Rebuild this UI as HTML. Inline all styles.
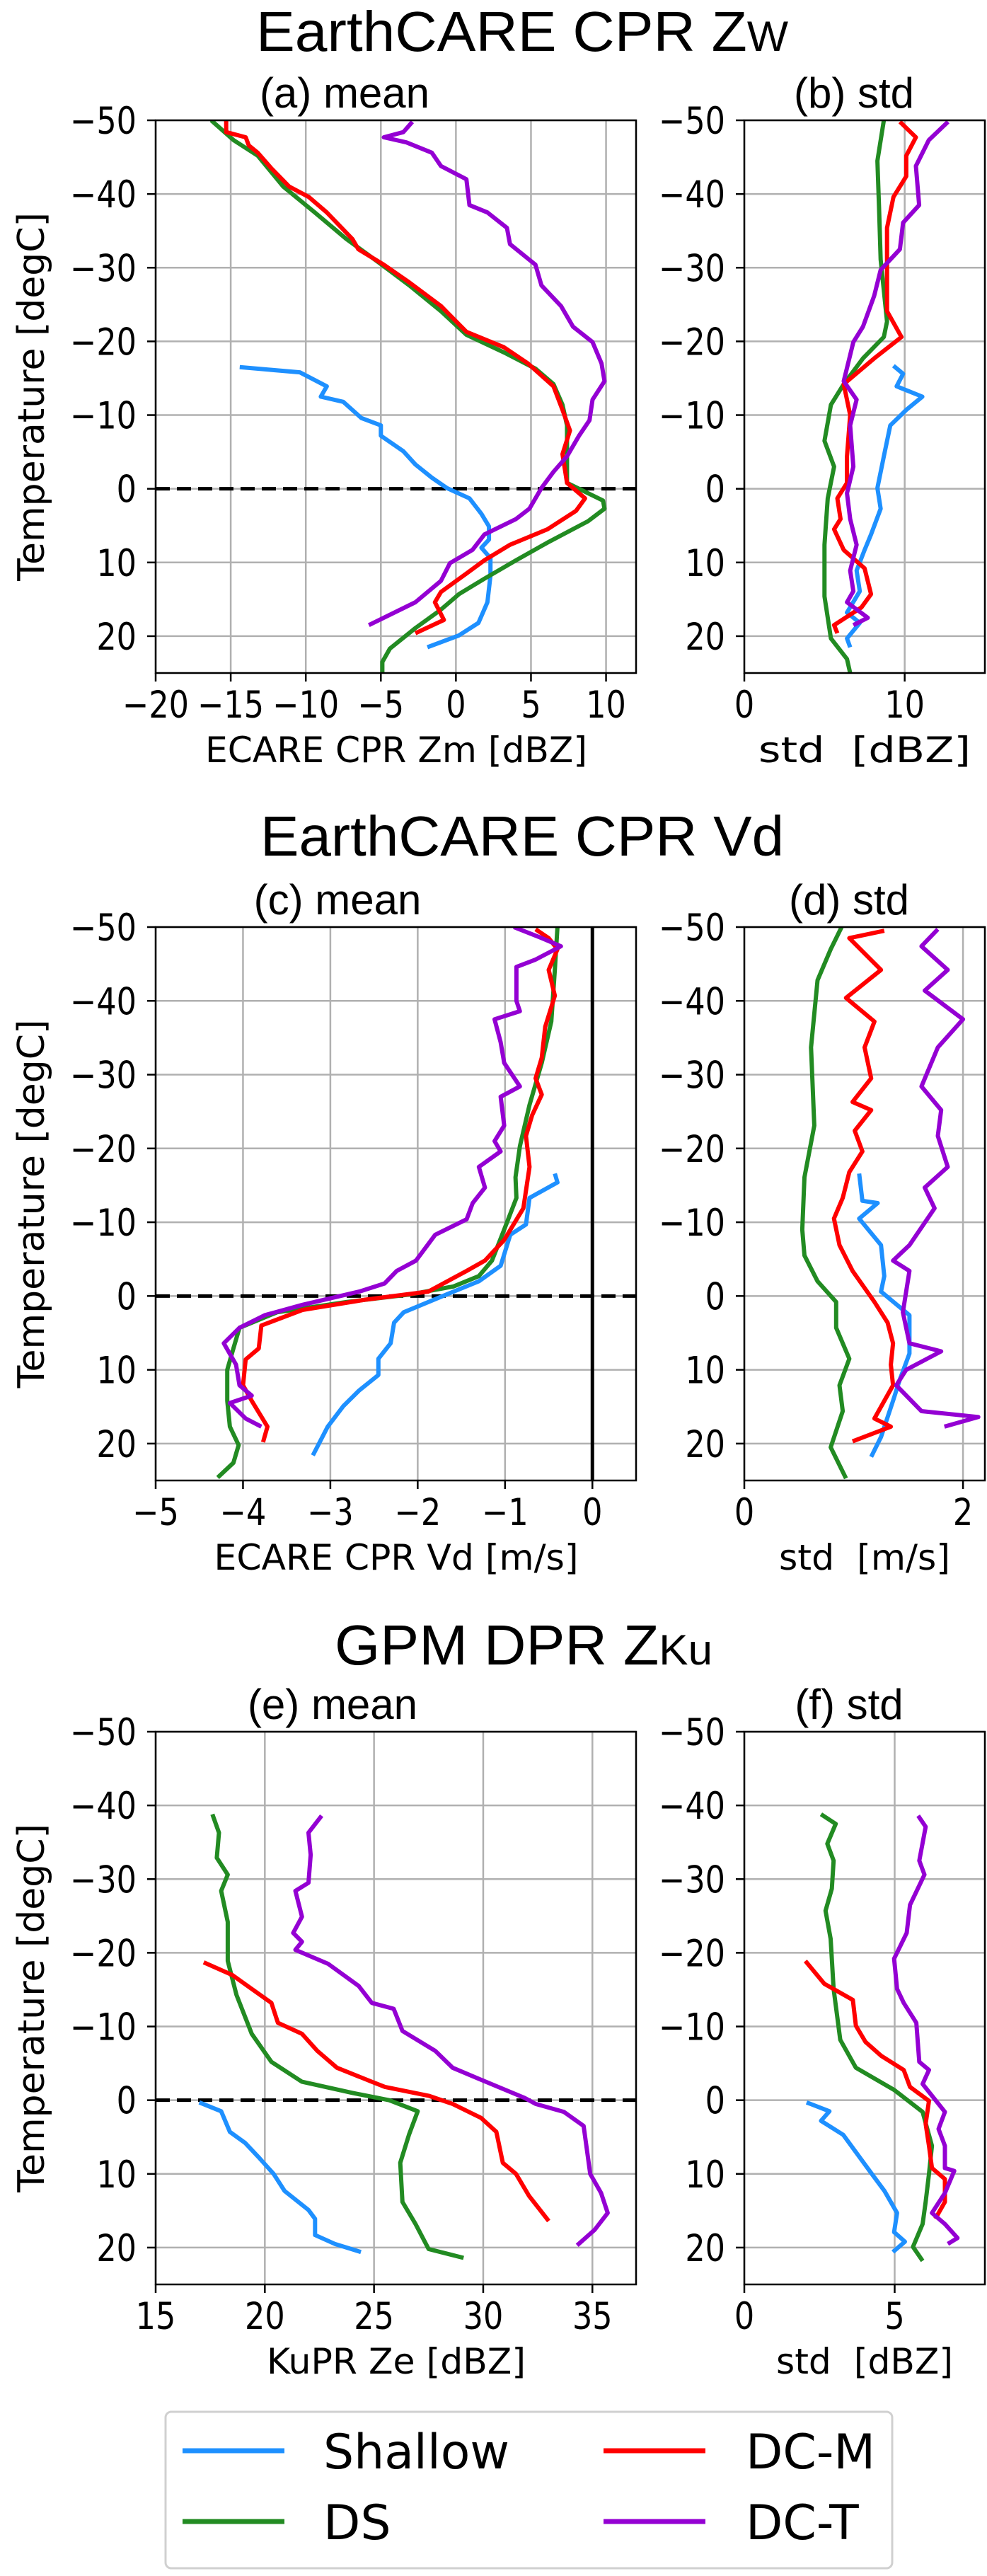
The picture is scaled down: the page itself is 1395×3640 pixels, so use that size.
<!DOCTYPE html>
<html><head><meta charset="utf-8"><style>
html,body{margin:0;padding:0;background:#fff;}
svg{display:block;}
</style></head><body>
<svg id="fig" xmlns="http://www.w3.org/2000/svg" width="1395" height="3640" viewBox="0 0 1395 3640">
<rect width="1395" height="3640" fill="#fff"/>
<text x="738" y="72" text-anchor="middle" font-family="Liberation Sans, sans-serif" font-size="80" textLength="752" lengthAdjust="spacingAndGlyphs">EarthCARE CPR Z<tspan font-size="60">W</tspan></text>
<text x="738" y="1209" text-anchor="middle" font-family="Liberation Sans, sans-serif" font-size="80" textLength="740" lengthAdjust="spacingAndGlyphs">EarthCARE CPR Vd</text>
<text x="740" y="2352" text-anchor="middle" font-family="Liberation Sans, sans-serif" font-size="80" textLength="534" lengthAdjust="spacingAndGlyphs">GPM DPR Z<tspan font-size="60">Ku</tspan></text>
<g id="plots"></g>
<g>
<rect x="234" y="3408" width="1027" height="221" rx="8" fill="#fff" stroke="#d0d0d0" stroke-width="3"/>
<line x1="258" y1="3463" x2="402" y2="3463" stroke="#1e90ff" stroke-width="7"/>
<text x="457" y="3488" font-family="DejaVu Sans, sans-serif" font-size="68">Shallow</text>
<line x1="258" y1="3563" x2="402" y2="3563" stroke="#228b22" stroke-width="7"/>
<text x="457" y="3588" font-family="DejaVu Sans, sans-serif" font-size="68">DS</text>
<line x1="853" y1="3463" x2="997" y2="3463" stroke="#ff0000" stroke-width="7"/>
<text x="1054" y="3488" font-family="DejaVu Sans, sans-serif" font-size="68">DC-M</text>
<line x1="853" y1="3563" x2="997" y2="3563" stroke="#9400d3" stroke-width="7"/>
<text x="1054" y="3588" font-family="DejaVu Sans, sans-serif" font-size="68">DC-T</text>
</g>
</svg>
<script>
const yTicks = [-50,-40,-30,-20,-10,0,10,20];
// Panel a: mean Zm
const a_shallow_t = [-16.5,-15.8,-13.9,-12.5,-11.8,-9.6,-8.6,-7.2,-5.1,-3.3,-1.5,-0.1,1.3,3.4,5.1,6.9,8.0,9.4,11.8,15.4,18.2,19.9,21.5];
const a_shallow_x = [-14.4,-10.4,-8.6,-9.0,-7.5,-6.3,-5.0,-5.0,-3.5,-2.7,-1.6,-0.6,0.9,1.7,2.2,2.2,1.7,2.3,2.3,2.1,1.5,0.2,-1.9];
const a_ds_t = [-50,-47.3,-45.2,-41,-37.5,-33.9,-30.8,-27.6,-24.1,-20.9,-18.5,-16.3,-14.2,-11.4,-8.6,-5.1,-0.8,0.6,1.6,2.7,4.4,7.3,9.7,12.2,14.3,16.4,18.9,21.7,23.5,25];
const a_ds_x = [-16.3,-14.8,-13.2,-11.5,-9.4,-7.3,-5.2,-3.1,-1.0,0.7,3.2,5.3,6.5,7.1,7.4,7.4,7.4,8.8,9.8,9.9,8.8,6.1,4.0,1.9,0.2,-1.0,-2.7,-4.4,-4.9,-4.9];
const a_dcm_t = [-50,-48.4,-47.7,-46.6,-45.6,-43.5,-41,-39.6,-37.5,-33.9,-32.5,-30.4,-28.0,-24.8,-21.3,-19.2,-17.0,-13.9,-10.7,-7.9,-4.7,-0.8,1.3,3.0,5.5,7.6,9.7,11.5,14.0,15.4,17.8,19.6];
const a_dcm_x = [-15.3,-15.3,-14.0,-13.8,-13.2,-12.3,-11.1,-9.8,-8.6,-6.9,-6.5,-4.8,-3.1,-1.0,0.7,3.2,4.8,6.5,7.1,7.6,7.1,7.4,8.6,8.0,6.1,3.6,1.9,0.7,-1.0,-1.4,-0.8,-2.7];
const a_dct_t = [-49.8,-48.4,-47.7,-47,-45.6,-43.8,-42,-38.5,-37.5,-35.4,-33.2,-30.4,-27.6,-24.8,-22,-19.9,-17,-14.6,-12.1,-9.3,-7.2,-4.4,-2.3,-0.1,2.7,4.1,6.2,8.3,10.1,12.5,15.4,18.5];
const a_dct_x = [-2.9,-3.5,-4.8,-3.3,-1.6,-1.0,0.7,0.9,2.1,3.4,3.6,5.3,5.7,7.0,7.8,9.1,9.7,9.9,9.1,8.9,8.2,7.4,6.5,5.7,4.9,4.0,1.9,1.1,-0.4,-1.0,-2.7,-5.8];
// Panel b: std Zm
const b_shallow_t = [-16.7,-15.6,-13.9,-12.5,-10.7,-8.6,-4.4,-0.1,2.7,6.2,8.3,11.1,13.9,16.8,18.2,20.3,21.5];
const b_shallow_x = [9.3,9.9,9.5,11.1,10.1,9.1,8.7,8.3,8.5,7.9,7.5,7.0,7.2,6.4,7.2,6.4,6.6];
const b_ds_t = [-50,-44.5,-38.2,-31.1,-22.7,-20.6,-17.7,-14.2,-11.4,-6.5,-3,1.3,7.6,14.6,20.3,23.1,25];
const b_ds_x = [8.7,8.3,8.4,8.5,8.9,8.7,7.4,6.2,5.4,5.0,5.6,5.2,5.0,5.0,5.4,6.4,6.6];
const b_dcm_t = [-49.8,-47.7,-45.2,-42.4,-39.6,-35.4,-30.4,-24.1,-20.6,-17.7,-14.2,-10,-4.4,-0.8,1.3,4.1,5.5,8.3,10.8,14.3,16.1,18.5,19.6];
const b_dcm_x = [9.7,10.7,10.1,10.1,9.3,8.9,8.9,8.9,9.8,8.1,6.2,6.6,6.4,6.4,5.8,6.0,5.6,6.2,7.5,7.9,7.3,5.6,5.8];
const b_dct_t = [-49.8,-47.3,-43.8,-38.5,-36.1,-32.5,-29.7,-26.2,-22,-19.9,-14.6,-12.1,-8.6,-3,0.6,4.1,7.6,11.1,13.9,15.4,17.5,18.5];
const b_dct_x = [12.7,11.5,10.7,10.9,9.9,9.7,8.5,8.1,7.4,6.8,6.2,7.0,6.6,6.8,6.4,6.6,7.0,6.6,6.8,6.4,7.7,6.8];
// Panel c: mean Vd
const c_shallow_t = [-16.6,-15.4,-13.3,-9.7,-8.3,-4.1,-2.0,-0.6,2.2,3.6,6.4,8.5,10.7,12.8,14.9,17.7,21.6];
const c_shallow_x = [-0.43,-0.40,-0.72,-0.76,-0.94,-1.05,-1.30,-1.59,-2.16,-2.27,-2.31,-2.45,-2.45,-2.67,-2.85,-3.03,-3.20];
const c_ds_t = [-50,-44.2,-37.2,-31.6,-25.9,-20.3,-16.1,-13.3,-9.0,-4.8,-2.7,-1.3,-0.2,0.8,2.2,4.3,7.1,10.0,14.2,17.7,20.2,22.6,24.6];
const c_ds_x = [-0.40,-0.43,-0.47,-0.58,-0.72,-0.83,-0.88,-0.87,-1.01,-1.15,-1.30,-1.59,-2.09,-2.81,-3.61,-4.04,-4.11,-4.18,-4.18,-4.15,-4.05,-4.11,-4.29];
const c_dcm_t = [-49.7,-48.5,-47,-44.2,-40.7,-36.5,-32.3,-29.5,-27.3,-24.5,-21.7,-17.5,-11.9,-7.6,-4.8,-3.4,-0.6,0.5,1.9,4.0,7.1,8.6,12.1,14.2,17.7,19.8];
const c_dcm_x = [-0.65,-0.50,-0.40,-0.50,-0.43,-0.54,-0.58,-0.65,-0.58,-0.69,-0.76,-0.72,-0.79,-1.01,-1.23,-1.44,-1.88,-2.60,-3.32,-3.79,-3.82,-3.97,-4.0,-3.90,-3.72,-3.77];
const c_dct_t = [-50,-48.5,-47.4,-45.6,-44.6,-40,-38.6,-37.5,-34.4,-31.6,-28.4,-27.0,-23.1,-21,-19.6,-17.5,-14.7,-12.6,-10.4,-8.3,-4.8,-3.4,-1.7,-0.6,1.2,2.6,4.3,6.4,9.3,12.1,13.5,14.5,16.6,17.7];
const c_dct_x = [-0.90,-0.58,-0.36,-0.65,-0.87,-0.87,-0.83,-1.12,-1.05,-1.01,-0.83,-1.05,-1.01,-1.12,-1.05,-1.30,-1.23,-1.37,-1.44,-1.80,-2.02,-2.24,-2.38,-2.67,-3.32,-3.75,-4.04,-4.22,-4.08,-4.04,-3.90,-4.15,-3.97,-3.79];
// Panel d: std Vd
const d_shallow_t = [-16.6,-12.9,-12.6,-10.5,-6.9,-2.7,-0.6,2.6,7.8,11.4,14.2,19.1,21.8];
const d_shallow_x = [1.05,1.08,1.22,1.05,1.25,1.28,1.25,1.51,1.51,1.42,1.36,1.25,1.16];
const d_ds_t = [-50,-47,-42.8,-33.7,-23.1,-16.1,-9.0,-5.5,-2.0,0.8,4.3,8.5,12.1,15.6,20.5,24.7];
const d_ds_x = [0.89,0.79,0.67,0.61,0.64,0.55,0.53,0.55,0.67,0.84,0.84,0.96,0.87,0.90,0.79,0.93];
const d_dcm_t = [-49.5,-48.5,-44.2,-40.4,-37.2,-33.7,-29.5,-26.3,-25.2,-22.4,-19.6,-16.8,-13.3,-10.5,-6.9,-3.4,0.8,3.6,6.4,9.3,12.1,16.6,17.7,19.7];
const d_dcm_x = [1.28,0.96,1.25,0.93,1.19,1.10,1.16,0.99,1.16,1.01,1.08,0.96,0.90,0.82,0.87,0.99,1.19,1.31,1.36,1.34,1.36,1.19,1.34,0.99];
const d_dct_t = [-49.7,-47.4,-44.2,-41.4,-37.5,-33.7,-28.4,-25.2,-21.7,-17.5,-14.7,-11.9,-6.9,-4.8,-3.4,2.2,6.4,7.5,10.0,12.1,15.6,16.4,17.7];
const d_dct_x = [1.77,1.62,1.86,1.65,2.0,1.77,1.62,1.80,1.77,1.86,1.65,1.74,1.51,1.36,1.51,1.45,1.51,1.80,1.48,1.39,1.62,2.14,1.83];
// Panel e: mean KuPR Ze
const e_shallow_t = [0.3,1.5,4.3,5.8,7.7,10.0,12.3,14.9,16.1,18.3,19.5,20.6];
const e_shallow_x = [17.0,18.0,18.4,19.1,19.7,20.4,20.9,22.0,22.3,22.3,23.2,24.4];
const e_ds_t = [-38.8,-36.3,-32.9,-30.6,-28.4,-24.2,-18.9,-14.3,-9.0,-5.2,-2.5,-1.0,0.0,1.5,4.7,8.5,13.8,16.8,20.2,21.4];
const e_ds_x = [17.6,17.9,17.8,18.3,18.0,18.3,18.3,18.7,19.4,20.3,21.7,24.0,25.7,27.0,26.6,26.2,26.3,26.9,27.5,29.1];
const e_dcm_t = [-18.7,-17.0,-15.1,-13.2,-10.5,-9.0,-6.7,-4.4,-2.5,-1.8,-0.6,0.5,2.4,4.3,8.5,10.0,13.0,16.4];
const e_dcm_x = [17.2,18.5,19.4,20.3,20.6,21.7,22.4,23.3,24.9,25.5,27.5,28.6,29.9,30.6,30.9,31.5,32.1,33.0];
const e_dct_t = [-38.6,-36.3,-33.3,-29.5,-28.4,-24.9,-22.7,-21.5,-20.4,-18.5,-15.5,-13.2,-12.4,-9.4,-6.7,-4.4,-2.9,-0.3,0.5,1.6,3.5,10.0,12.6,15.3,17.6,19.7];
const e_dct_x = [22.6,22.0,22.1,22.0,21.4,21.7,21.3,21.7,21.4,22.9,24.3,24.9,25.9,26.3,27.8,28.6,29.8,31.9,32.4,33.7,34.6,34.9,35.4,35.7,35.1,34.3];
// Panel f: std KuPR Ze
const f_shallow_t = [0.3,1.5,2.8,4.7,10.0,12.3,15.3,17.9,19.2,20.6];
const f_shallow_x = [2.07,2.83,2.55,3.29,4.24,4.66,5.08,4.98,5.34,4.94];
const f_ds_t = [-38.8,-37.5,-34.8,-32.5,-28.7,-25.7,-21.9,-15.1,-8.2,-4.4,-1.4,1.6,6.2,10.0,13.8,16.8,19.9,21.8];
const f_ds_x = [2.55,3.04,2.76,2.97,2.91,2.70,2.87,2.97,3.19,3.71,4.98,5.93,6.24,6.14,6.03,5.93,5.61,5.93];
const f_dcm_t = [-18.9,-15.8,-13.6,-10.1,-7.9,-6.0,-4.1,-1.8,0.1,3.2,6.2,9.2,10.7,13.8,16.1];
const f_dcm_x = [2.03,2.66,3.61,3.71,4.03,4.56,5.30,5.51,6.14,6.03,6.14,6.24,6.67,6.67,6.35];
const f_dct_t = [-38.6,-37.1,-32.5,-30.6,-26.5,-22.7,-19.2,-15.1,-13.2,-10.5,-5.2,-4.1,-2.2,1.6,3.9,6.2,9.2,9.6,12.6,15.3,16.8,18.7,19.5];
const f_dct_x = [5.78,6.03,5.82,5.99,5.51,5.40,4.98,5.08,5.30,5.72,5.82,6.14,5.93,6.67,6.46,6.67,6.67,6.98,6.67,6.24,6.67,7.09,6.77];

const a_xticks = [-20,-15,-10,-5,0,5,10];
const b_xticks = [0,10];
const c_xticks = [-5,-4,-3,-2,-1,0];
const d_xticks = [0,2];
const e_xticks = [15,20,25,30,35];
const f_xticks = [0,5];

const NS = "http://www.w3.org/2000/svg";
const plots = document.getElementById('plots');
function mk(tag, attrs, parent){
  const el = document.createElementNS(NS, tag);
  for (const k in attrs) el.setAttribute(k, attrs[k]);
  parent.appendChild(el);
  return el;
}
const COLORS = {shallow:'#1e90ff', ds:'#228b22', dcm:'#ff0000', dct:'#9400d3'};
function fmt(v){ return (v<0?'\u2212':'') + Math.abs(v); }
const TF = 'font-family:"DejaVu Sans",sans-serif;font-size:53px;';

function drawPanel(p){
  const g = mk('g', {}, plots);
  
  
  const sx = v => p.x0 + (v - p.xmin) / (p.xmax - p.xmin) * (p.x1 - p.x0);
  const sy = v => p.y0 + (v - (-50)) / 75 * (p.y1 - p.y0);
  const clip = 'clip-' + p.id;
  const cp = mk('clipPath', {id: clip}, g);
  mk('rect', {x:p.x0, y:p.y0, width:p.x1-p.x0, height:p.y1-p.y0}, cp);
  p.xticks.forEach(t => {
    const ln = mk('line', {x1:sx(t), x2:sx(t), y1:p.y0, y2:p.y1, stroke:'#b0b0b0', 'stroke-width':2.5}, g);
    
    
  });
  yTicks.forEach(t => {
    const ln = mk('line', {x1:p.x0, x2:p.x1, y1:sy(t), y2:sy(t), stroke:'#b0b0b0', 'stroke-width':2.5}, g);
    
    
  });
  if (p.zeroV) {
    const zl = mk('line', {x1:sx(0), x2:sx(0), y1:p.y0, y2:p.y1, stroke:'#000', 'stroke-width':5}, g);
    
    
  }
  if (p.freeze) {
    const fl = mk('line', {x1:p.x0, x2:p.x1, y1:sy(0), y2:sy(0), stroke:'#000', 'stroke-width':5, 'stroke-dasharray':'20,10'}, g);
    
    
  }
  p.series.forEach(s => {
    const pts = s.t.map((t,i) => sx(s.x[i]).toFixed(1) + ',' + sy(t).toFixed(1)).join(' ');
    const pl = mk('polyline', {points: pts, fill:'none', stroke:COLORS[s.key], 'stroke-width':6, 'stroke-linejoin':'round', 'clip-path':'url(#'+clip+')'}, g);
    
    
  });
  const fr = mk('rect', {x:p.x0, y:p.y0, width:p.x1-p.x0, height:p.y1-p.y0, fill:'none', stroke:'#000', 'stroke-width':2.5}, g);
  
  
  p.xticks.forEach(t => {
    mk('line', {x1:sx(t), x2:sx(t), y1:p.y1, y2:p.y1+12, stroke:'#000', 'stroke-width':2.5}, g);
    const tx = mk('text', {x:0, y:0, 'text-anchor':'middle', style:TF, transform:'translate('+sx(t)+','+(p.y1+63)+') scale(0.84,1)'}, g);
    tx.textContent = fmt(t);
    
    
  });
  yTicks.forEach(t => {
    mk('line', {x1:p.x0-12, x2:p.x0, y1:sy(t), y2:sy(t), stroke:'#000', 'stroke-width':2.5}, g);
    const tx = mk('text', {x:0, y:0, 'text-anchor':'end', style:TF, transform:'translate('+(p.x0-27)+','+(sy(t)+19)+') scale(0.84,1)'}, g);
    tx.textContent = fmt(t);
    
    
  });
  const xl = mk('text', {x:p.xlx, y:p.y1+126, 'text-anchor':'middle', 'font-family':'DejaVu Sans, sans-serif', 'font-size':50, textLength:p.xlw, lengthAdjust:'spacingAndGlyphs'}, g);
  xl.setAttribute('xml:space', 'preserve');
  xl.textContent = p.xlabel;
  
  
  const st = mk('text', {x:p.stx, y:p.y0-18, 'text-anchor':'middle', 'font-family':'Liberation Sans, sans-serif', 'font-size':60}, g);
  st.textContent = p.subtitle;
  
  
  if (p.ylabel) {
    const yl = mk('text', {x:0, y:0, 'text-anchor':'middle', 'font-family':'DejaVu Sans, sans-serif', 'font-size':52, transform:'translate(62,'+((p.y0+p.y1)/2)+') rotate(-90)'}, g);
    yl.textContent = 'Temperature [degC]';
    
    
  }
}
drawPanel({id:'a', name:'panel-a-mean-zm', x0:220, x1:899, y0:170, y1:951, xmin:-20, xmax:12, xticks:a_xticks, freeze:true, ylabel:true, xlabel:'ECARE CPR Zm [dBZ]', xlx:560, xlw:540, subtitle:'(a) mean', stx:487,
  series:[{key:'shallow',t:a_shallow_t,x:a_shallow_x},{key:'ds',t:a_ds_t,x:a_ds_x},{key:'dcm',t:a_dcm_t,x:a_dcm_x},{key:'dct',t:a_dct_t,x:a_dct_x}]});
drawPanel({id:'b', name:'panel-b-std-zm', x0:1052, x1:1392, y0:170, y1:951, xmin:0, xmax:15, xticks:b_xticks, xlabel:'std\u00a0\u00a0[dBZ]', xlx:1222, xlw:300, subtitle:'(b) std', stx:1207,
  series:[{key:'shallow',t:b_shallow_t,x:b_shallow_x},{key:'ds',t:b_ds_t,x:b_ds_x},{key:'dcm',t:b_dcm_t,x:b_dcm_x},{key:'dct',t:b_dct_t,x:b_dct_x}]});
drawPanel({id:'c', name:'panel-c-mean-vd', x0:220, x1:899, y0:1310, y1:2092, xmin:-5, xmax:0.5, xticks:c_xticks, freeze:true, zeroV:true, ylabel:true, xlabel:'ECARE CPR Vd [m/s]', xlx:560, xlw:515, subtitle:'(c) mean', stx:477,
  series:[{key:'shallow',t:c_shallow_t,x:c_shallow_x},{key:'ds',t:c_ds_t,x:c_ds_x},{key:'dcm',t:c_dcm_t,x:c_dcm_x},{key:'dct',t:c_dct_t,x:c_dct_x}]});
drawPanel({id:'d', name:'panel-d-std-vd', x0:1052, x1:1392, y0:1310, y1:2092, xmin:0, xmax:2.2, xticks:d_xticks, xlabel:'std\u00a0\u00a0[m/s]', xlx:1222, xlw:242, subtitle:'(d) std', stx:1200,
  series:[{key:'shallow',t:d_shallow_t,x:d_shallow_x},{key:'ds',t:d_ds_t,x:d_ds_x},{key:'dcm',t:d_dcm_t,x:d_dcm_x},{key:'dct',t:d_dct_t,x:d_dct_x}]});
drawPanel({id:'e', name:'panel-e-mean-ku', x0:220, x1:899, y0:2447, y1:3228, xmin:15, xmax:37, xticks:e_xticks, freeze:true, ylabel:true, xlabel:'KuPR Ze [dBZ]', xlx:560, xlw:366, subtitle:'(e) mean', stx:470,
  series:[{key:'shallow',t:e_shallow_t,x:e_shallow_x},{key:'ds',t:e_ds_t,x:e_ds_x},{key:'dcm',t:e_dcm_t,x:e_dcm_x},{key:'dct',t:e_dct_t,x:e_dct_x}]});
drawPanel({id:'f', name:'panel-f-std-ku', x0:1052, x1:1392, y0:2447, y1:3228, xmin:0, xmax:8, xticks:f_xticks, xlabel:'std\u00a0\u00a0[dBZ]', xlx:1222, xlw:250, subtitle:'(f) std', stx:1200,
  series:[{key:'shallow',t:f_shallow_t,x:f_shallow_x},{key:'ds',t:f_ds_t,x:f_ds_x},{key:'dcm',t:f_dcm_t,x:f_dcm_x},{key:'dct',t:f_dct_t,x:f_dct_x}]});
</script>
</body></html>
